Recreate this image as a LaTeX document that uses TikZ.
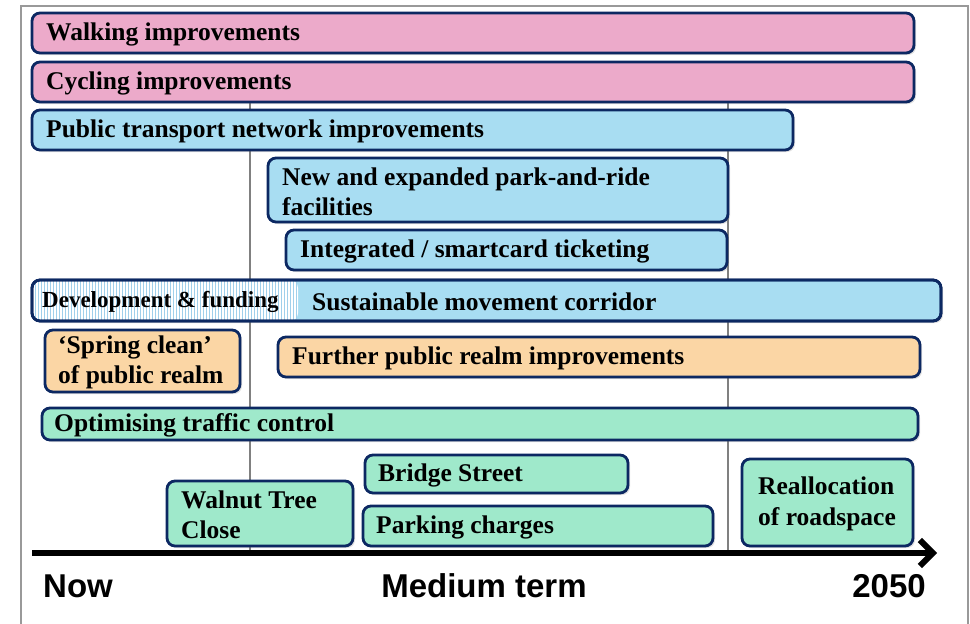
\documentclass[tikz,border=0pt]{standalone}
\usepackage{fontspec}
\newfontfamily\barfont{Liberation Serif}
\newfontfamily\axisfont{Liberation Sans}
\usetikzlibrary{positioning,shadows,arrows.meta}

\definecolor{pinkF}{RGB}{236,170,202}
\definecolor{blueF}{RGB}{168,221,242}
\definecolor{orangeF}{RGB}{251,214,165}
\definecolor{greenF}{RGB}{159,233,203}
\definecolor{navy}{RGB}{12,40,98}
\definecolor{hatchC}{RGB}{160,208,235}

\begin{document}
\begin{tikzpicture}[
x=1pt,y=-1pt,
bar/.style={draw=navy,fill=#1,line width=2.8pt,rounded corners=8pt,
  anchor=north west,inner sep=0pt,outer sep=0pt,
  drop shadow={opacity=0.25,shadow xshift=2pt,shadow yshift=-2pt}},
box/.style 2 args={minimum width=#1pt,minimum height=#2pt},
lbl/.style={anchor=west,inner xsep=14pt,inner ysep=0pt,yshift=-1.5pt,align=left,
  font=\barfont\bfseries\fontsize{25.5}{30}\selectfont},
axis/.style={inner sep=0pt,font=\axisfont\bfseries\fontsize{33}{36}\selectfont},
guide/.style={draw=black!50,line width=2.5pt},
hatch/.style={draw=hatchC,line width=1pt},
]

\useasboundingbox (0,0) rectangle (970,624);
\draw[draw=black!40,line width=2pt] (21,624) |- (968,6) -- (968,624);

% period markers
\draw[guide] (250,102) -- (250,550);
\draw[guide] (728,102) -- (728,550);

\node[bar=pinkF,box={882}{40}] (walk) at (32,13)
  [label={[lbl]west:Walking improvements}] {};
\node[bar=pinkF,box={882}{40}] (cycle) at (32,62)
  [label={[lbl]west:Cycling improvements}] {};
\node[bar=blueF,box={761}{40}] (pt) at (32,110)
  [label={[lbl]west:Public transport network improvements}] {};
\node[bar=blueF,box={460}{64}] (pr) at (268,158)
  [label={[lbl]west:New and expanded park-and-ride\\facilities}] {};
\node[bar=blueF,box={441}{40}] (tick) at (286,230)
  [label={[lbl]west:Integrated / smartcard ticketing}] {};

\node[bar=blueF,box={909}{41},path picture={
  \fill[white] (path picture bounding box.north west) rectangle
    ([xshift=266pt]path picture bounding box.south west);
  \foreach \i in {1,...,88}
    \draw[hatch] ([xshift=\i*3pt]path picture bounding box.north west) --
      ([xshift=\i*3pt]path picture bounding box.south west);
  }] (corr) at (32,280)
  [label={[lbl,inner xsep=10pt,font=\barfont\bfseries\fontsize{23}{26}\selectfont]west:Development \& funding}]
  [label={[lbl,xshift=266pt]west:Sustainable movement corridor}] {};
\draw[draw=navy,line width=2.8pt,rounded corners=8pt]
  (corr.north west) rectangle (corr.south east);

\node[bar=orangeF,box={195}{62}] (spring) at (45,330)
  [label={[lbl,inner xsep=13pt]west:‘Spring clean’\\of public realm}] {};
\node[bar=orangeF,box={642}{40}] (realm) at (278,337)
  [label={[lbl]west:Further public realm improvements}] {};
\node[bar=greenF,box={876}{32}] (traffic) at (42,408)
  [label={[lbl,inner xsep=12pt]west:Optimising traffic control}] {};
\node[bar=greenF,box={263}{38}] (bridge) at (365,455)
  [label={[lbl,inner xsep=13pt]west:Bridge Street}] {};
\node[bar=greenF,box={186}{65}] (walnut) at (167,481)
  [label={[lbl]west:Walnut Tree\\Close}] {};
\node[bar=greenF,box={350}{40}] (parking) at (363,506)
  [label={[lbl,inner xsep=13pt]west:Parking charges}] {};
\node[bar=greenF,box={171}{87}] (realloc) at (742,459)
  [label={[lbl,inner xsep=16pt,font=\barfont\bfseries\fontsize{25.5}{31}\selectfont]west:Reallocation\\of roadspace}] {};

% time axis
\coordinate (t0) at (32,553);
\coordinate (t1) at (937,553);
\draw[line width=6pt,-{Straight Barb[length=13pt,width=26pt]}] (t0) -- (t1);

\node[axis,anchor=base west] (now) at (43,597) {Now};
\node[axis,anchor=base] (mid) at (484,597) {Medium term};
\node[axis,anchor=base east] (end) at (926,597) {2050};

\end{tikzpicture}
\end{document}
